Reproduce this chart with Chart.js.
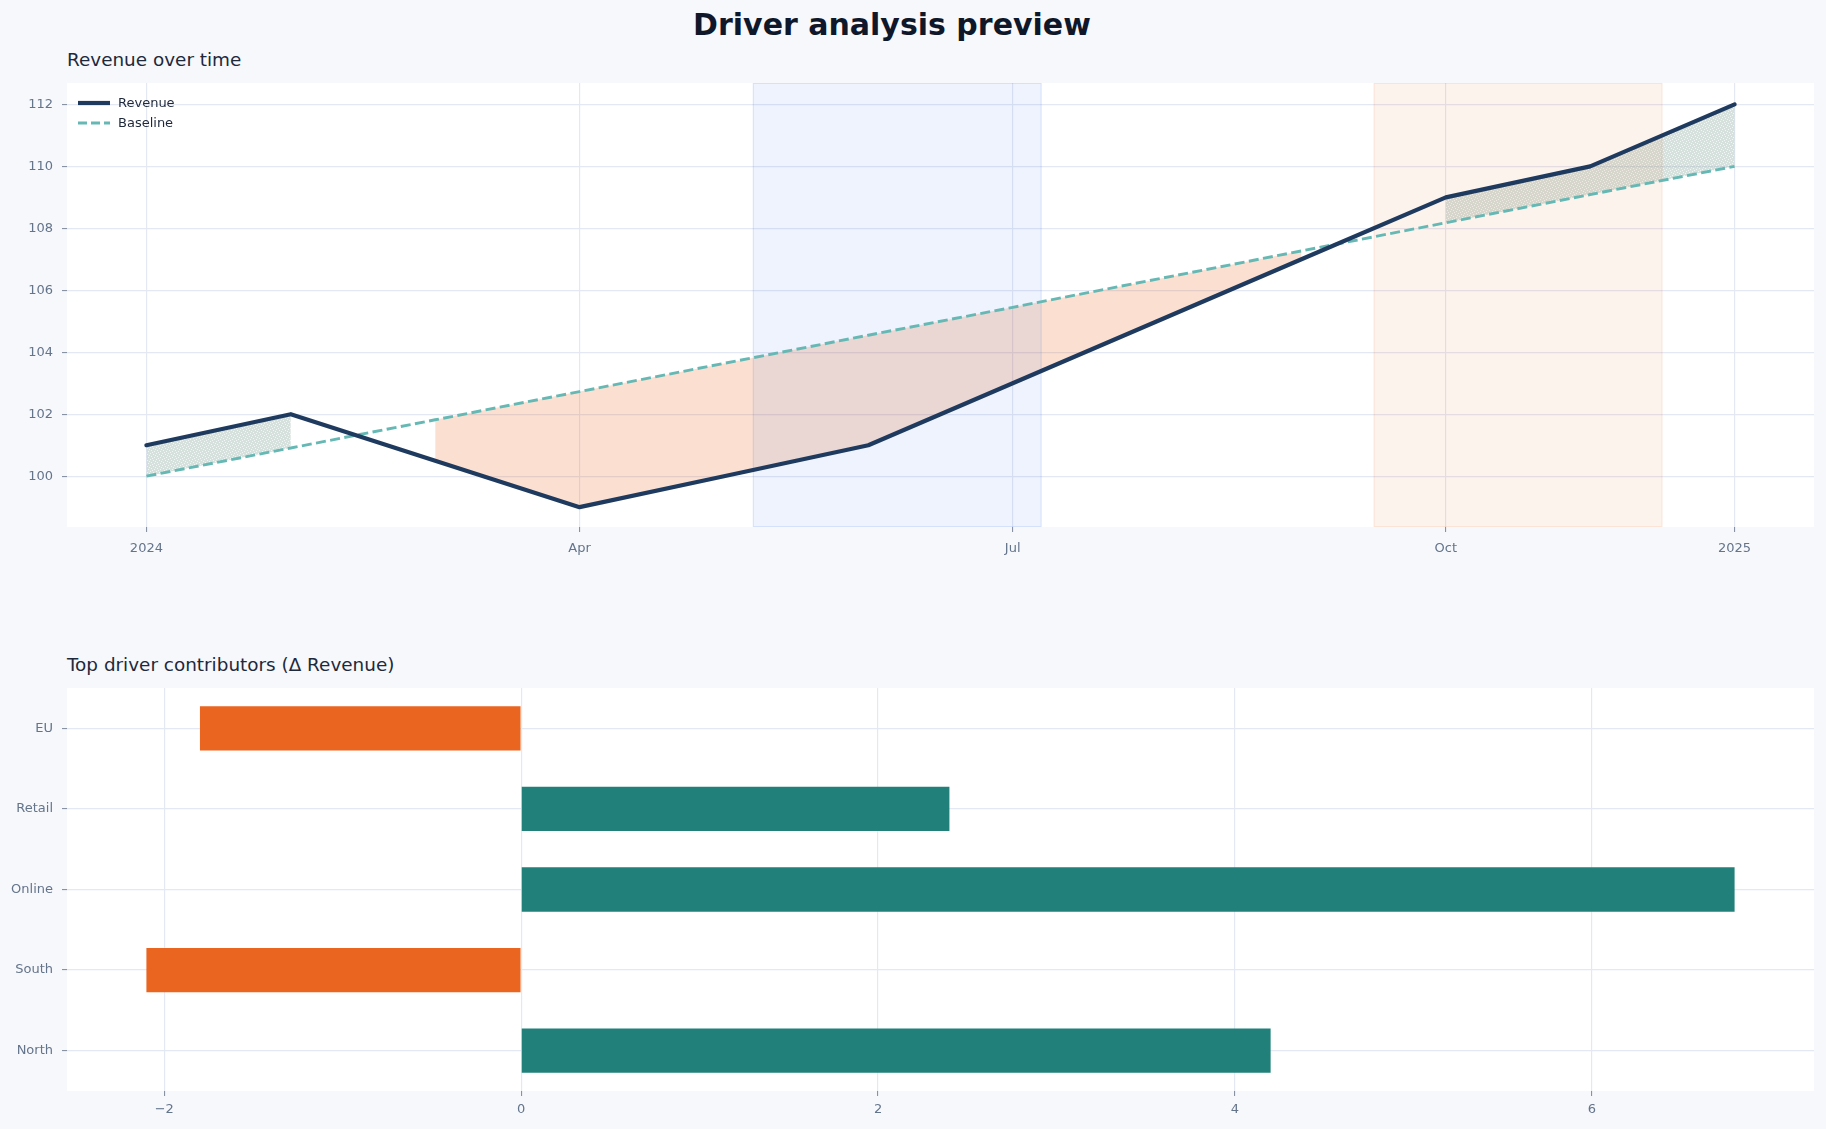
<!DOCTYPE html>
<html>
<head>
<meta charset="utf-8">
<script src="https://cdn.jsdelivr.net/npm/chart.js@4.4.1/dist/chart.umd.min.js"></script>
<style>
html,body{margin:0;padding:0;width:1826px;height:1129px;overflow:hidden;background:#f6f8fb;font-family:'DejaVu Sans',sans-serif;}
#title{position:absolute;left:392px;width:1000px;top:8px;text-align:center;font-weight:bold;font-size:30px;line-height:34px;color:#0f172a;white-space:nowrap;}
.sub{position:absolute;left:67px;font-size:18.4px;line-height:20px;color:#1e293b;white-space:nowrap;}
canvas{position:absolute;left:0;}
</style>
</head>
<body>
<div id="title">Driver analysis preview</div>
<div class="sub" style="top:50px">Revenue over time</div>
<div class="sub" style="top:655px">Top driver contributors (Δ Revenue)</div>
<canvas id="c1" width="1826" height="507" style="top:63px"></canvas>
<canvas id="c2" width="1826" height="461" style="top:668px"></canvas>
<script>
// ---- data ----
const periods = ['2024-01','2024-02','2024-03','2024-04','2024-05','2024-06','2024-07','2024-08','2024-09','2024-10','2024-11','2024-12'];
const periodIndex = [0,1,2,3,4,5,6,7,8,9,10,11];
const revenue = [101, 102, 100.5, 99, 100, 101, 103, 105, 107, 109, 110, 112];
const baseline = [100, 100.91, 101.82, 102.73, 103.64, 104.55, 105.45, 106.36, 107.27, 108.18, 109.09, 110];
const timeTickIndex = [0, 3, 6, 9, 11];
const timeTickLabels = ['2024', 'Apr', 'Jul', 'Oct', '2025'];
const revenueTicks = [100, 102, 104, 106, 108, 110, 112];
const highlightFrom = [4.2, 8.5];
const highlightTo = [6.2, 10.5];

const drivers = ['EU', 'Retail', 'Online', 'South', 'North'];
const contributions = [-1.8, 2.4, 6.8, -2.1, 4.2];
const contributionTicks = [-2, 0, 2, 4, 6];

// ---- styles ----
Chart.defaults.font.family = "'DejaVu Sans', sans-serif";
Chart.defaults.font.size = 13;
Chart.defaults.color = '#64748b';
const GRID = '#e3e8f3';
const TICK = '#7c8799';
const NAVY = '#1f3a5f';
const TEAL_DASH = '#66b8b4';

function makeHatch() {
  const c = document.createElement('canvas');
  c.width = 6; c.height = 6;
  const g = c.getContext('2d');
  g.fillStyle = 'rgba(140,168,162,0.36)';
  g.fillRect(0, 0, 6, 6);
  const dots = [[0,0],[3,1],[1,3],[4,4],[5,2],[2,5]];
  dots.forEach(([x, y]) => {
    g.clearRect(x, y, 1, 1);
    g.fillStyle = 'rgba(140,168,162,0.10)';
    g.fillRect(x, y, 1, 1);
  });
  return document.createElement('canvas').getContext('2d').createPattern(c, 'repeat');
}

const toPts = arr => arr.map((v, i) => ({ x: periodIndex[i], y: v }));
const posFill = revenue.map((v, i) => (v > baseline[i] ? v : null));
const negFill = revenue.map((v, i) => (v < baseline[i] ? v : null));

const plotBg = {
  id: 'plotBg',
  beforeDraw(chart) {
    const a = chart.chartArea, g = chart.ctx;
    g.save(); g.fillStyle = '#ffffff';
    g.fillRect(a.left, a.top, a.right - a.left, a.bottom - a.top);
    g.restore();
  }
};

const spanPlugin = {
  id: 'spans',
  beforeDatasetDraw(chart, args) {
    if (args.index !== 1) return;
    const a = chart.chartArea, g = chart.ctx, xs = chart.scales.x;
    const fills = ['rgba(37,99,235,0.078)', 'rgba(234,88,12,0.073)'];
    const edges = ['rgba(37,99,235,0.12)', 'rgba(234,88,12,0.10)'];
    g.save();
    highlightFrom.forEach((f, i) => {
      const x0 = xs.getPixelForValue(f), x1 = xs.getPixelForValue(highlightTo[i]);
      g.fillStyle = fills[i];
      g.fillRect(x0, a.top, x1 - x0, a.bottom - a.top);
      g.strokeStyle = edges[i]; g.lineWidth = 1;
      g.strokeRect(x0 + 0.5, a.top + 0.5, x1 - x0 - 1, a.bottom - a.top - 1);
    });
    g.restore();
  }
};

const legendPlugin = {
  id: 'inlineLegend',
  afterDraw(chart) {
    const a = chart.chartArea, g = chart.ctx;
    const x0 = a.left + 11, x1 = a.left + 43, tx = a.left + 51;
    const y0 = a.top + 20, y1 = a.top + 40;
    g.save();
    g.strokeStyle = NAVY; g.lineWidth = 4.2;
    g.beginPath(); g.moveTo(x0, y0); g.lineTo(x1, y0); g.stroke();
    g.strokeStyle = TEAL_DASH; g.lineWidth = 2.8; g.setLineDash([9, 4]);
    g.beginPath(); g.moveTo(x0, y1); g.lineTo(x1, y1); g.stroke();
    g.setLineDash([]);
    g.font = "13px 'DejaVu Sans'"; g.fillStyle = '#1e293b'; g.textBaseline = 'middle';
    g.fillText(chart.data.datasets[0].label, tx, y0 + 0.5);
    g.fillText(chart.data.datasets[1].label, tx, y1 + 0.5);
    g.restore();
  }
};

new Chart(document.getElementById('c1'), {
  type: 'line',
  data: {
    datasets: [
      { label: 'Revenue', data: toPts(revenue), borderColor: NAVY, borderWidth: 4.2, pointRadius: 0,
        fill: false, order: 0, borderJoinStyle: 'round', borderCapStyle: 'round', tension: 0 },
      { label: 'Baseline', data: toPts(baseline), borderColor: TEAL_DASH, borderWidth: 2.9, borderDash: [10, 4.4],
        pointRadius: 0, fill: false, order: 1, tension: 0 },
      { label: 'above', data: toPts(posFill), borderWidth: 0, borderColor: 'rgba(0,0,0,0)',
        backgroundColor: makeHatch(), pointRadius: 0, fill: 1, order: 2, spanGaps: false },
      { label: 'below', data: toPts(negFill), borderWidth: 0, borderColor: 'rgba(0,0,0,0)',
        backgroundColor: 'rgba(234,88,12,0.19)', pointRadius: 0, fill: 1, order: 3, spanGaps: false }
    ]
  },
  options: {
    responsive: false, animation: false, devicePixelRatio: 1,
    layout: { padding: { left: 0, right: 12, top: 20, bottom: 0 } },
    plugins: { legend: { display: false }, tooltip: { enabled: false }, title: { display: false } },
    scales: {
      x: {
        type: 'linear', min: -0.55, max: 11.55,
        afterBuildTicks: s => { s.ticks = timeTickIndex.map(v => ({ value: v })); },
        afterFit: s => { s.height = 43; },
        ticks: { autoSkip: false, maxRotation: 0, padding: 9, color: '#64748b',
          callback: v => timeTickLabels[timeTickIndex.indexOf(v)] },
        grid: { color: GRID, lineWidth: 1.2, tickLength: 5, tickColor: TICK, tickWidth: 1 },
        border: { display: false }
      },
      y: {
        type: 'linear', min: 98.36, max: 112.69,
        afterBuildTicks: s => { s.ticks = revenueTicks.map(v => ({ value: v })); },
        afterFit: s => { s.width = 67; },
        ticks: { padding: 9, color: '#64748b', callback: v => String(v) },
        grid: { color: GRID, lineWidth: 1.2, tickLength: 5, tickColor: TICK, tickWidth: 1 },
        border: { display: false }
      }
    }
  },
  plugins: [plotBg, spanPlugin, legendPlugin]
});

new Chart(document.getElementById('c2'), {
  type: 'bar',
  data: {
    labels: drivers,
    datasets: [{
      label: 'Δ Revenue', data: contributions,
      backgroundColor: contributions.map(v => (v < 0 ? '#e96520' : '#21807a')),
      borderWidth: 0, barPercentage: 0.55, categoryPercentage: 1.0
    }]
  },
  options: {
    indexAxis: 'y', responsive: false, animation: false, devicePixelRatio: 1,
    layout: { padding: { left: 0, right: 12, top: 20, bottom: 0 } },
    plugins: { legend: { display: false }, tooltip: { enabled: false } },
    scales: {
      x: {
        type: 'linear', min: -2.545, max: 7.245,
        afterBuildTicks: s => { s.ticks = contributionTicks.map(v => ({ value: v })); },
        afterFit: s => { s.height = 38; },
        ticks: { padding: 6, color: '#64748b', callback: v => String(v).replace('-', '\u2212') },
        grid: { color: GRID, lineWidth: 1.2, tickLength: 5, tickColor: TICK, tickWidth: 1 },
        border: { display: false }
      },
      y: {
        type: 'category',
        afterFit: s => { s.width = 67; },
        ticks: { padding: 9, color: '#64748b' },
        grid: { offset: false, color: GRID, lineWidth: 1.2, tickLength: 5, tickColor: TICK, tickWidth: 1 },
        border: { display: false }
      }
    }
  },
  plugins: [plotBg]
});
</script>
</body>
</html>
